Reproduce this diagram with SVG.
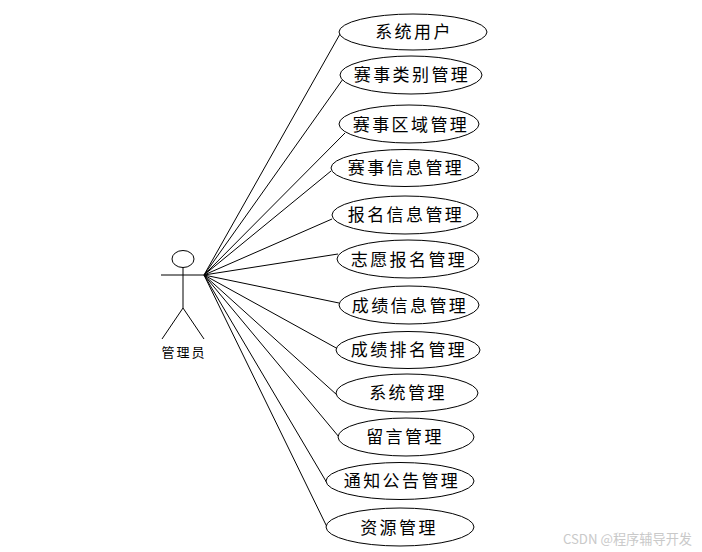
<svg xmlns="http://www.w3.org/2000/svg" width="702" height="552" viewBox="0 0 702 552">
<style>
.s{fill:none;stroke:#000;stroke-width:1}
.e{fill:#fff;stroke:#000;stroke-width:1}
.t{font-family:"Noto Sans CJK SC","Liberation Sans",sans-serif;font-size:17px;letter-spacing:2.400px;text-anchor:middle;dominant-baseline:central;fill:#000}
</style>
<rect width="702" height="552" fill="#fff"/>
<g id="connectors" class="s">
<path d="M204 275L340 34"/><path d="M204 275L343 79"/><path d="M204 275L345 133"/><path d="M204 275L331 171"/><path d="M204 275L332 219"/><path d="M204 275L338 254"/><path d="M204 275L339 303"/><path d="M204 275L338 349"/><path d="M204 275L337 395"/><path d="M204 275L339 437"/><path d="M204 275L327 483"/><path d="M204 275L327 527"/>
</g>
<g id="actor" class="s">
<ellipse cx="183" cy="259" rx="11" ry="8.500"/>
<path d="M183 267.500V308M161 275H204M183 308L162 339M183 308L204 339"/>
<text x="184" y="351.500" style="font-family:'Noto Sans CJK SC',sans-serif;font-size:13px;letter-spacing:2px;text-anchor:middle;dominant-baseline:central;fill:#000;stroke:none">管理员</text>
</g>
<g id="n1"><ellipse class="e" cx="413" cy="32" rx="74" ry="18"/><text class="t" x="414" y="30">系统用户</text></g>
<g id="n2"><ellipse class="e" cx="411" cy="75" rx="71" ry="19"/><text class="t" x="412" y="73">赛事类别管理</text></g>
<g id="n3"><ellipse class="e" cx="409" cy="124" rx="70" ry="19"/><text class="t" x="411" y="123">赛事区域管理</text></g>
<g id="n4"><ellipse class="e" cx="405" cy="168" rx="74" ry="18.500"/><text class="t" x="406" y="166">赛事信息管理</text></g>
<g id="n5"><ellipse class="e" cx="405" cy="215" rx="73" ry="19"/><text class="t" x="406" y="213">报名信息管理</text></g>
<g id="n6"><ellipse class="e" cx="408" cy="259" rx="71" ry="19"/><text class="t" x="409" y="258">志愿报名管理</text></g>
<g id="n7"><ellipse class="e" cx="409" cy="305" rx="70" ry="19"/><text class="t" x="410" y="304">成绩信息管理</text></g>
<g id="n8"><ellipse class="e" cx="408" cy="350" rx="72" ry="18.500"/><text class="t" x="409" y="348">成绩排名管理</text></g>
<g id="n9"><ellipse class="e" cx="407" cy="393" rx="71" ry="19"/><text class="t" x="408" y="391">系统管理</text></g>
<g id="n10"><ellipse class="e" cx="406" cy="437" rx="68" ry="19"/><text class="t" x="405" y="435">留言管理</text></g>
<g id="n11"><ellipse class="e" cx="400" cy="481" rx="74" ry="18.500"/><text class="t" x="402" y="479">通知公告管理</text></g>
<g id="n12"><ellipse class="e" cx="400" cy="527" rx="74" ry="19"/><text class="t" x="399" y="526">资源管理</text></g>
<text x="692" y="538" style="font-family:'Noto Sans CJK SC','Liberation Sans',sans-serif;font-size:13.200px;text-anchor:end;dominant-baseline:central;fill:#c9c9c9">CSDN @程序辅导开发</text>
</svg>
